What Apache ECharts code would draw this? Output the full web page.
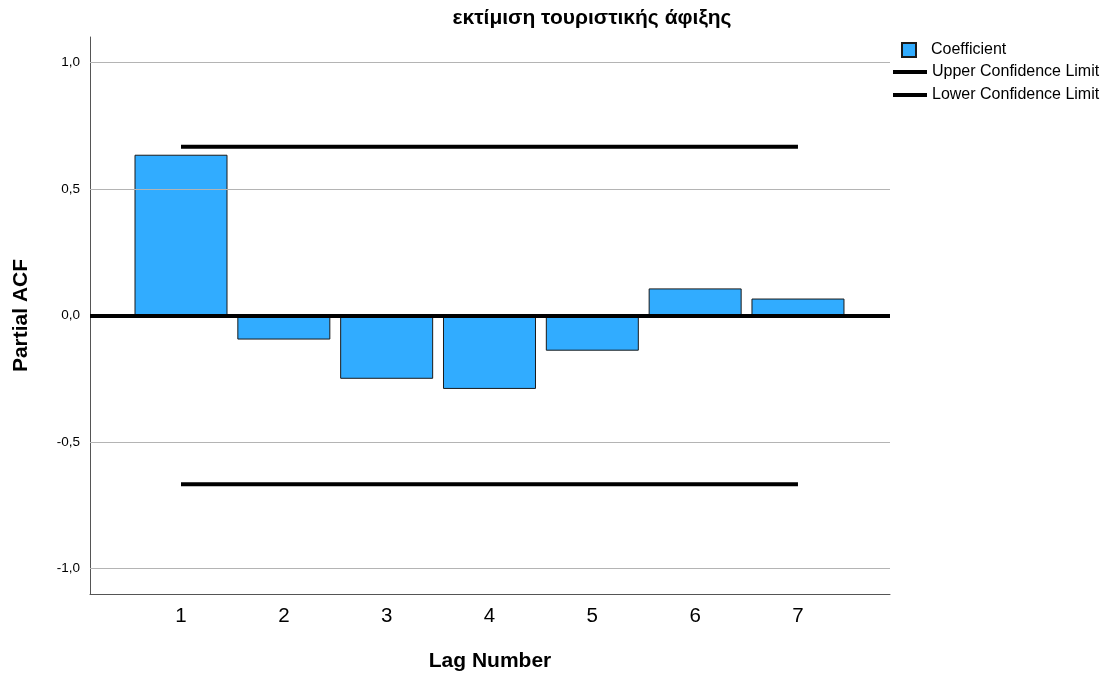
<!DOCTYPE html>
<html>
<head>
<meta charset="utf-8">
<script src="https://cdn.jsdelivr.net/npm/echarts@6/dist/echarts.min.js"></script>
<style>
  html, body { margin: 0; padding: 0; background: #fff; }
  #chart { width: 1113px; height: 675px; }
</style>
</head>
<body>
<div id="chart"></div>
<script>
// Partial autocorrelation of tourist arrivals, lags 1..7
const lags = [1, 2, 3, 4, 5, 6, 7];
const coefficients = [0.635, -0.095, -0.25, -0.29, -0.139, 0.107, 0.067];
const upperLimit = [0.667, 0.667, 0.667, 0.667, 0.667, 0.667, 0.667];
const lowerLimit = [-0.667, -0.667, -0.667, -0.667, -0.667, -0.667, -0.667];
const gridValues = [-1, -0.5, 0.5, 1];

const FONT = '"Liberation Sans", Arial, sans-serif';
const chart = echarts.init(document.getElementById('chart'));

const pairs = (ys) => lags.map((x, i) => [x, ys[i]]);
const comma = (v) => v.toFixed(1).replace('.', ',');

chart.setOption({
  animation: false,
  backgroundColor: '#ffffff',
  textStyle: { fontFamily: FONT },
  title: {
    text: 'εκτίμιση τουριστικής άφιξης',
    left: 587, top: 3, textAlign: 'center',
    textStyle: { fontFamily: FONT, fontSize: 21, fontWeight: 'bold', color: '#000' }
  },
  legend: [
    {
      data: ['Coefficient'], orient: 'vertical', left: 896, top: 37,
      itemWidth: 14, itemHeight: 14, icon: 'rect',
      textStyle: { fontFamily: FONT, fontSize: 16, color: '#000', padding: [0, 0, 0, 10] }
    },
    {
      data: ['Upper Confidence Limit', 'Lower Confidence Limit'],
      orient: 'vertical', left: 888, top: 59, itemGap: 7,
      itemWidth: 34, itemHeight: 4, icon: 'rect',
      textStyle: { fontFamily: FONT, fontSize: 16, color: '#000' }
    }
  ],
  grid: { left: 90, right: 223, top: 37, bottom: 81, outerBoundsMode: 'none' },
  xAxis: {
    type: 'value', min: 0.115, max: 7.895, splitNumber: 8,
    name: 'Lag Number', nameLocation: 'middle', nameGap: 57,
    nameTextStyle: { fontFamily: FONT, fontSize: 21, fontWeight: 'bold', color: '#000' },
    axisLine: { onZero: false, lineStyle: { color: '#555', width: 1 } },
    axisTick: { show: false },
    splitLine: { show: false },
    axisLabel: {
      showMinLabel: false, showMaxLabel: false, margin: 12,
      fontFamily: FONT, fontSize: 20.5, color: '#000',
      formatter: (v) => (Number.isInteger(v) ? String(v) : '')
    }
  },
  yAxis: {
    type: 'value', min: -1.1, max: 1.1, splitNumber: 4,
    name: 'Partial ACF', nameLocation: 'middle', nameGap: 58, nameRotate: 90,
    nameTextStyle: { fontFamily: FONT, fontSize: 21, fontWeight: 'bold', color: '#000' },
    axisLine: { show: true, lineStyle: { color: '#555', width: 1 } },
    axisTick: { show: false },
    splitLine: { show: false },
    axisLabel: {
      showMinLabel: false, showMaxLabel: false, margin: 10,
      fontFamily: FONT, fontSize: 13.5, color: '#000',
      formatter: (v) => (Math.abs(v * 2 - Math.round(v * 2)) < 1e-9 ? comma(v) : '')
    }
  },
  series: [
    {
      name: 'Coefficient', type: 'bar', data: pairs(coefficients),
      barWidth: 93,
      itemStyle: { color: '#31acff', borderColor: '#1a1a1a', borderWidth: 1 },
      markLine: {
        silent: true, symbol: 'none', label: { show: false },
        data: gridValues.map((v) => ({ yAxis: v, lineStyle: { color: '#b4b4b4', width: 1, type: 'solid' } }))
          .concat([{ yAxis: 0, lineStyle: { color: '#000', width: 4, type: 'solid' } }])
      },
      z: 2
    },
    {
      name: 'Upper Confidence Limit', type: 'line', data: pairs(upperLimit),
      symbol: 'none', lineStyle: { color: '#000', width: 4 }, itemStyle: { color: '#000' }, z: 4
    },
    {
      name: 'Lower Confidence Limit', type: 'line', data: pairs(lowerLimit),
      symbol: 'none', lineStyle: { color: '#000', width: 4 }, itemStyle: { color: '#000' }, z: 4
    }
  ]
});
</script>
</body>
</html>
